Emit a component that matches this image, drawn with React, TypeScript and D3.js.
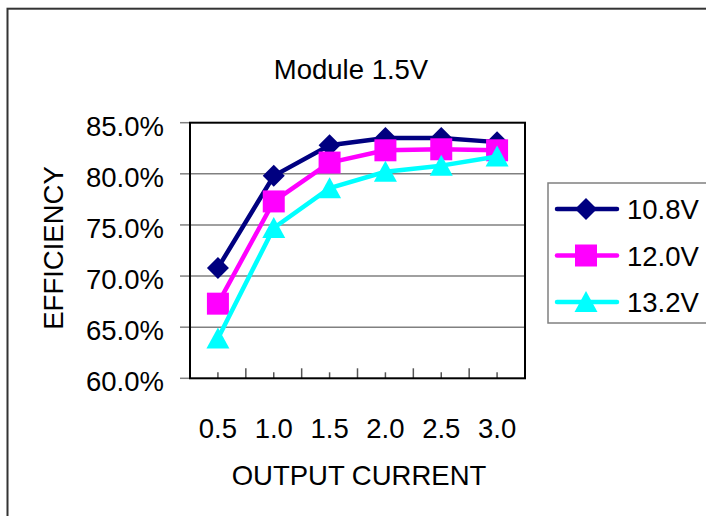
import { useEffect, useRef } from "react";
import * as d3 from "d3";

// data
const CURRENTS = ["0.5", "1.0", "1.5", "2.0", "2.5", "3.0"];
const SERIES_NAMES = ["10.8V", "12.0V", "13.2V"];
const EFF_108 = [0.708, 0.798, 0.828, 0.835, 0.835, 0.831];
const EFF_120 = [0.673, 0.773, 0.811, 0.823, 0.824, 0.823];
const EFF_132 = [0.639, 0.747, 0.786, 0.802, 0.808, 0.817];
const Y_TICKS = [0.6, 0.65, 0.7, 0.75, 0.8, 0.85];

const COLORS = ["#000080", "#FF00FF", "#00FFFF"];
const FONT = "'Liberation Sans', Arial, sans-serif";
const FS = 27.5;

// marker shapes, centred on 0,0
function markerPath(i: number) {
  if (i === 0) return "M0,-11L11,0L0,11L-11,0Z";
  if (i === 1) return "M-11,-11H11V11H-11Z";
  return "M0,-11L11.5,10L-11.5,10Z";
}

export default function App() {
  const ref = useRef<SVGSVGElement>(null);

  useEffect(() => {
    if (!ref.current) return;
    const svg = d3.select(ref.current);
    svg.selectAll("*").remove();

    const series = [EFF_108, EFF_120, EFF_132];
    const left = 190,
      right = 525,
      top = 122.7,
      bottom = 378.3;

    const x = d3.scaleBand().domain(CURRENTS).range([left, right]).padding(0);
    const y = d3.scaleLinear().domain([0.6, 0.85]).range([bottom, top]);
    const cx = (c: string) => (x(c) ?? 0) + x.bandwidth() / 2;

    // outer frame
    svg
      .append("rect")
      .attr("x", 7.5)
      .attr("y", 8.7)
      .attr("width", 740)
      .attr("height", 540)
      .attr("fill", "white")
      .attr("stroke", "#333")
      .attr("stroke-width", 2);

    // title
    svg
      .append("text")
      .attr("x", 351)
      .attr("y", 79)
      .attr("text-anchor", "middle")
      .attr("font-family", FONT)
      .attr("font-size", FS)
      .text("Module 1.5V");

    // gridlines
    svg
      .append("g")
      .selectAll("line")
      .data(Y_TICKS.slice(1, -1))
      .join("line")
      .attr("x1", left)
      .attr("x2", right)
      .attr("y1", (d) => y(d))
      .attr("y2", (d) => y(d))
      .attr("stroke", "#808080")
      .attr("stroke-width", 1.5);

    // y axis ticks + labels
    const yg = svg.append("g");
    yg.selectAll("line")
      .data(Y_TICKS)
      .join("line")
      .attr("x1", left - 10)
      .attr("x2", left)
      .attr("y1", (d) => y(d))
      .attr("y2", (d) => y(d))
      .attr("stroke", "#808080")
      .attr("stroke-width", 1.5);
    yg.selectAll("text")
      .data(Y_TICKS)
      .join("text")
      .attr("x", 164)
      .attr("y", (d) => y(d) + 13)
      .attr("text-anchor", "end")
      .attr("font-family", FONT)
      .attr("font-size", FS)
      .text((d) => d3.format(".1%")(d));

    // x axis ticks (boundaries longer, centres shorter, both inside)
    const xg = svg.append("g");
    const bounds = CURRENTS.slice(1).map((c) => x(c) ?? 0);
    xg.selectAll("line.b")
      .data(bounds)
      .join("line")
      .attr("class", "b")
      .attr("x1", (d) => d)
      .attr("x2", (d) => d)
      .attr("y1", bottom)
      .attr("y2", bottom - 10)
      .attr("stroke", "#555")
      .attr("stroke-width", 1.5);
    xg.selectAll("line.c")
      .data(CURRENTS)
      .join("line")
      .attr("class", "c")
      .attr("x1", (d) => cx(d))
      .attr("x2", (d) => cx(d))
      .attr("y1", bottom)
      .attr("y2", bottom - 6)
      .attr("stroke", "#555")
      .attr("stroke-width", 1.5);
    xg.selectAll("text")
      .data(CURRENTS)
      .join("text")
      .attr("x", (d) => cx(d))
      .attr("y", 438)
      .attr("text-anchor", "middle")
      .attr("font-family", FONT)
      .attr("font-size", FS)
      .text((d) => d);

    // plot frame
    svg
      .append("rect")
      .attr("x", left)
      .attr("y", top)
      .attr("width", right - left)
      .attr("height", bottom - top)
      .attr("fill", "none")
      .attr("stroke", "black")
      .attr("stroke-width", 2);

    // axis titles
    svg
      .append("text")
      .attr("transform", `translate(63,248) rotate(-90)`)
      .attr("text-anchor", "middle")
      .attr("font-family", FONT)
      .attr("font-size", FS)
      .text("EFFICIENCY");
    svg
      .append("text")
      .attr("x", 359)
      .attr("y", 485)
      .attr("text-anchor", "middle")
      .attr("font-family", FONT)
      .attr("font-size", FS)
      .text("OUTPUT CURRENT");

    // series
    const line = d3
      .line<number>()
      .x((_, j) => cx(CURRENTS[j]))
      .y((d) => y(d));

    series.forEach((vals, i) => {
      svg
        .append("path")
        .datum(vals)
        .attr("fill", "none")
        .attr("stroke", COLORS[i])
        .attr("stroke-width", 4.5)
        .attr("stroke-linejoin", "round")
        .attr("d", line);
      svg
        .append("g")
        .selectAll("path")
        .data(vals)
        .join("path")
        .attr("transform", (d, j) => `translate(${cx(CURRENTS[j])},${y(d)})`)
        .attr("d", markerPath(i))
        .attr("fill", COLORS[i]);
    });

    // legend
    const leg = svg.append("g");
    leg
      .append("rect")
      .attr("x", 548)
      .attr("y", 183)
      .attr("width", 200)
      .attr("height", 140)
      .attr("fill", "white")
      .attr("stroke", "#808080")
      .attr("stroke-width", 1.5);
    SERIES_NAMES.forEach((name, i) => {
      const ly = 209 + i * 46.5;
      leg
        .append("line")
        .attr("x1", 557)
        .attr("x2", 617)
        .attr("y1", ly)
        .attr("y2", ly)
        .attr("stroke", COLORS[i])
        .attr("stroke-width", 4.5)
        .attr("stroke-linecap", "round");
      leg
        .append("path")
        .attr("transform", `translate(586,${ly})`)
        .attr("d", markerPath(i))
        .attr("fill", COLORS[i]);
      leg
        .append("text")
        .attr("x", 627)
        .attr("y", ly + 10)
        .attr("font-family", FONT)
        .attr("font-size", FS)
        .text(name);
    });
  }, []);

  return (
    <svg
      ref={ref}
      width={706}
      height={516}
      style={{ position: "absolute", left: 0, top: 0, background: "white" }}
    />
  );
}
